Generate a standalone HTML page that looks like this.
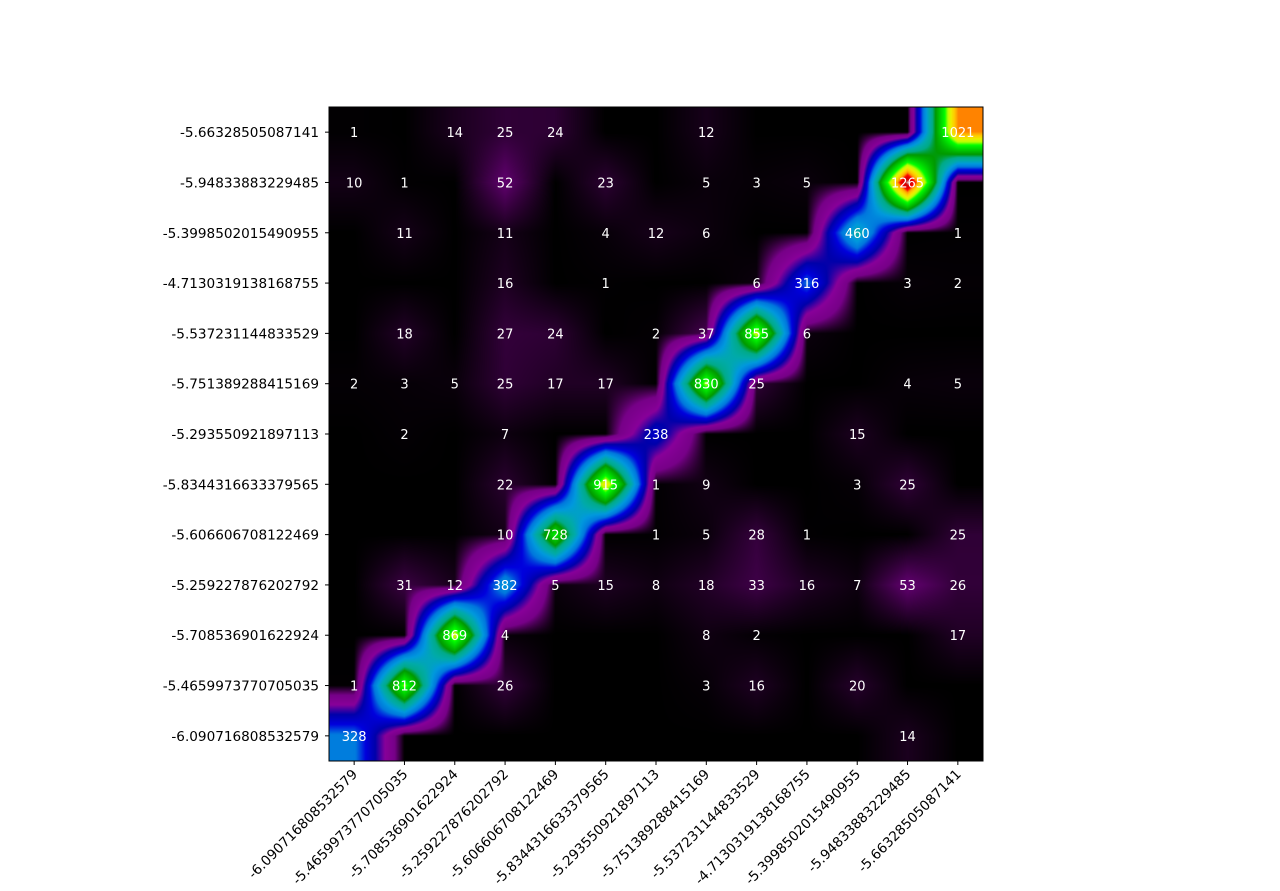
<!DOCTYPE html>
<html><head><meta charset="utf-8">
<style>
body{margin:0;background:#fff;width:1280px;height:891px;overflow:hidden;font-family:"DejaVu Sans","Liberation Sans",sans-serif;}
#wrap{position:relative;width:1280px;height:891px;}
canvas{position:absolute;left:329px;top:107px;}
svg{position:absolute;left:0;top:0;}
</style></head>
<body>
<div id="wrap">
<canvas id="hm" width="654" height="654"></canvas>
<svg id="ov" width="1280" height="891"></svg>
</div>
<script>
const rowLabels=["-5.66328505087141","-5.94833883229485","-5.3998502015490955","-4.7130319138168755","-5.537231144833529","-5.751389288415169","-5.293550921897113","-5.8344316633379565","-5.606606708122469","-5.259227876202792","-5.708536901622924","-5.4659973770705035","-6.090716808532579"];
const colLabels=["-6.090716808532579","-5.4659973770705035","-5.708536901622924","-5.259227876202792","-5.606606708122469","-5.8344316633379565","-5.293550921897113","-5.751389288415169","-5.537231144833529","-4.7130319138168755","-5.3998502015490955","-5.94833883229485","-5.66328505087141"];
const values=[
[1,0,14,25,24,0,0,12,0,0,0,0,1021],
[10,1,0,52,0,23,0,5,3,5,0,1265,0],
[0,11,0,11,0,4,12,6,0,0,460,0,1],
[0,0,0,16,0,1,0,0,6,316,0,3,2],
[0,18,0,27,24,0,2,37,855,6,0,0,0],
[2,3,5,25,17,17,0,830,25,0,0,4,5],
[0,2,0,7,0,0,238,0,0,0,15,0,0],
[0,0,0,22,0,915,1,9,0,0,3,25,0],
[0,0,0,10,728,0,1,5,28,1,0,0,25],
[0,31,12,382,5,15,8,18,33,16,7,53,26],
[0,0,869,4,0,0,0,8,2,0,0,0,17],
[1,812,0,26,0,0,0,3,16,0,20,0,0],
[328,0,0,0,0,0,0,0,0,0,0,14,0]];

const X0=329,Y0=107,W=654,N=13,C=W/N;
const vmax=Math.max(...values.flat());
const cm=[[0,0,0,0],[.05,.4667,0,.5333],[.1,.5333,0,.6],[.15,0,0,.6667],[.2,0,0,.8667],[.25,0,.4667,.8667],[.3,0,.6,.8667],[.35,0,.6667,.6667],[.4,0,.6667,.5333],[.45,0,.6,0],[.5,0,.7333,0],[.55,0,.8667,0],[.6,0,1,0],[.65,.7333,1,0],[.7,.9333,.9333,0],[.75,1,.8,0],[.8,1,.6,0],[.85,1,0,0],[.9,.8667,0,0],[.95,.8,0,0],[1,.8,.8,.8]];
function cmap(t){t=Math.max(0,Math.min(1,t));for(let i=1;i<cm.length;i++){if(t<=cm[i][0]){const a=cm[i-1],b=cm[i],f=(t-a[0])/(b[0]-a[0]);return [0,1,2].map(k=>255*(a[k+1]+f*(b[k+1]-a[k+1])));}}return [204,204,204];}
function v(r,c){r=Math.max(0,Math.min(N-1,r));c=Math.max(0,Math.min(N-1,c));return values[r][c];}
const ctx=document.getElementById('hm').getContext('2d');
const img=ctx.createImageData(W,W);
for(let py=0;py<W;py++){const fy=(py+0.5)/C-0.5;const r=Math.floor(fy),ty=fy-r;
 for(let px=0;px<W;px++){const fx=(px+0.5)/C-0.5;const c=Math.floor(fx),tx=fx-c;
  const a=v(r,c)*(1-tx)+v(r,c+1)*tx, b=v(r+1,c)*(1-tx)+v(r+1,c+1)*tx;
  const val=a*(1-ty)+b*ty;
  const col=cmap(val/vmax);const i=(py*W+px)*4;
  img.data[i]=col[0];img.data[i+1]=col[1];img.data[i+2]=col[2];img.data[i+3]=255;}}
ctx.putImageData(img,0,0);

const svg=document.getElementById('ov');const NS="http://www.w3.org/2000/svg";
function mk(t,a){const e=document.createElementNS(NS,t);for(const k in a)e.setAttribute(k,a[k]);svg.appendChild(e);return e;}
const frame=mk('rect',{x:X0,y:Y0,width:W,height:W,fill:'none',stroke:'#000','stroke-width':1});


for(let r=0;r<N;r++)for(let c=0;c<N;c++){const val=values[r][c];if(!val)continue;
 const t=mk('text',{x:X0+(c+0.5)*C,y:Y0+(r+0.5)*C+5,fill:'#fff','font-size':13,'text-anchor':'middle'});t.textContent=val;
 
 }
rowLabels.forEach((l,i)=>{const y=Y0+(i+0.5)*C;
 const tk=mk('line',{x1:X0-4,x2:X0,y1:y,y2:y,stroke:'#000'});
 
 
 const t=mk('text',{x:X0-10,y:y+5,'font-size':13.6,'text-anchor':'end',fill:'#000'});t.textContent=l;
 
 });
colLabels.forEach((l,i)=>{const x=X0+(i+0.5)*C;const y=Y0+W;
 const tk=mk('line',{x1:x,x2:x,y1:y,y2:y+4,stroke:'#000'});
 
 
 const t=mk('text',{x:x+4,y:y+14,'font-size':13.6,'text-anchor':'end',fill:'#000',transform:`rotate(-45 ${x+4} ${y+14})`});t.textContent=l;
 
 });
</script>
</body></html>
